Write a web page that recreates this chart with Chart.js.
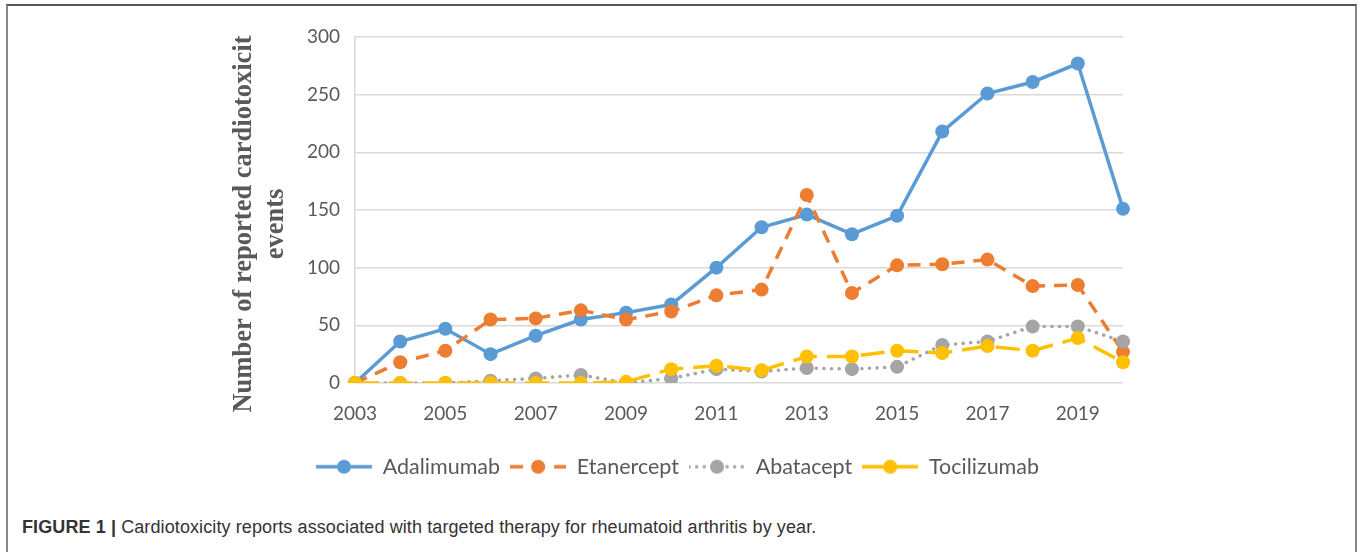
<!DOCTYPE html>
<html>
<head>
<meta charset="utf-8">
<script src="https://cdn.jsdelivr.net/npm/chart.js@4"></script>
<style>
  body { margin: 0; background: #fff; }
  #wrap { position: relative; width: 1362px; height: 552px; overflow: hidden; }
  #frame { position: absolute; left: 6px; top: 4px; width: 1347px; height: 560px;
           border-top: 2px solid #555; border-left: 2px solid #888; border-right: 2px solid #888; }
  #chart { position: absolute; left: 0; top: 0; }
  #caption { position: absolute; left: 22px; top: 517px; font: 18px "Liberation Sans", Arial, sans-serif;
             color: #333; letter-spacing: 0.1px; white-space: nowrap; }
  #caption b { font-weight: bold; }
</style>
</head>
<body>
<div id="wrap">
  <div id="frame"></div>
  <canvas id="chart" width="1362" height="495"></canvas>
  <div id="caption"><b>FIGURE 1 |</b> Cardiotoxicity reports associated with targeted therapy for rheumatoid arthritis by year.</div>
</div>
<script>
// data
const years = ["2003", "2004", "2005", "2006", "2007", "2008", "2009", "2010", "2011",
               "2012", "2013", "2014", "2015", "2016", "2017", "2018", "2019", "2020"];
const adalimumab  = [0, 36, 47, 25, 41, 55, 61, 68, 100, 135, 146, 129, 145, 218, 251, 261, 277, 151];
const etanercept  = [0, 18, 28, 55, 56, 63, 55, 62, 76, 81, 163, 78, 102, 103, 107, 84, 85, 27];
const abatacept   = [0, 0, 0, 2, 4, 7, 0, 4, 12, 10, 13, 12, 14, 33, 36, 49, 49, 36];
const tocilizumab = [0, 0, 0, 0, 0, 0, 1, 12, 15, 11, 23, 23, 28, 26, 32, 28, 39, 18];
const yTicks = [0, 50, 100, 150, 200, 250, 300];
const yTitle = ["Number of reported cardiotoxicit", "events"];

const textGray = "#595959";
const gridGray = "#d9d9d9";

// small line+marker sample for the legend
function legendSample(color, dash, cap) {
    const c = document.createElement("canvas");
    c.width = 56; c.height = 16;
    const g = c.getContext("2d");
    g.strokeStyle = color;
    g.lineWidth = 3.5;
    g.lineCap = cap || "butt";
    g.setLineDash(dash);
    g.beginPath();
    g.moveTo(0, 8); g.lineTo(56, 8);
    g.stroke();
    g.fillStyle = color;
    g.beginPath();
    g.arc(28, 8, 7, 0, Math.PI * 2);
    g.fill();
    return c;
}

function series(label, data, color, dash, cap, order) {
    return {
        label: label,
        data: data,
        borderColor: color,
        backgroundColor: color,
        borderWidth: 3.5,
        borderDash: dash,
        borderCapStyle: cap,
        pointRadius: 7,
        pointBorderWidth: 0,
        pointBackgroundColor: color,
        tension: 0,
        order: order,
        sample: legendSample(color, dash, cap)
    };
}

// y axis title, two rotated lines
const yTitlePlugin = {
    id: "yTitle",
    afterDraw(chart) {
        const ctx = chart.ctx;
        const area = chart.chartArea;
        const cy = (area.top + area.bottom) / 2 + 14;
        ctx.save();
        ctx.fillStyle = textGray;
        ctx.font = "bold 26.5px 'Liberation Serif', 'Times New Roman', serif";
        ctx.textAlign = "center";
        ctx.textBaseline = "middle";
        const xs = [area.left - 111, area.left - 79];
        yTitle.forEach((line, i) => {
            ctx.save();
            ctx.translate(xs[i], cy);
            ctx.rotate(-Math.PI / 2);
            ctx.fillText(line, 0, 0);
            ctx.restore();
        });
        ctx.restore();
    }
};

const ctx = document.getElementById("chart").getContext("2d");

new Chart(ctx, {
    type: "line",
    data: {
        labels: years,
        datasets: [
            series("Adalimumab", adalimumab, "#5b9bd5", [], "butt", 4),
            series("Etanercept", etanercept, "#ed7d31", [13, 9], "butt", 3),
            series("Abatacept", abatacept, "#a5a5a5", [0.1, 7.5], "round", 2),
            series("Tocilizumab", tocilizumab, "#ffc000", [24, 10], "butt", 1)
        ]
    },
    options: {
        responsive: false,
        animation: false,
        layout: { padding: { left: 232, right: 239, top: 37, bottom: 7.5 } },
        plugins: {
            tooltip: { enabled: false },
            legend: {
                position: "bottom",
                labels: {
                    usePointStyle: true,
                    pointStyleWidth: 56,
                    padding: 10,
                    color: textGray,
                    font: { family: "Lato", size: 21.5 },
                    generateLabels(chart) {
                        return chart.data.datasets.map((ds, i) => ({
                            text: ds.label,
                            pointStyle: ds.sample,
                            fillStyle: ds.borderColor,
                            strokeStyle: ds.borderColor,
                            lineWidth: 0,
                            hidden: false,
                            datasetIndex: i,
                            fontColor: textGray
                        }));
                    }
                }
            }
        },
        scales: {
            x: {
                type: "category",
                offset: false,
                grid: { display: false, drawTicks: false },
                border: { display: false },
                ticks: {
                    autoSkip: false,
                    maxRotation: 0,
                    padding: 19,
                    color: textGray,
                    font: { family: "Lato", size: 19 },
                    callback: (v, i) => (i % 2 === 0 ? years[i] : "")
                },
                afterFit: (s) => { s.height = 63; }
            },
            y: {
                min: 0,
                max: 300,
                afterBuildTicks: (s) => { s.ticks = yTicks.map(v => ({ value: v })); },
                grid: { color: gridGray, lineWidth: 1.5, drawTicks: false },
                border: { display: true, color: gridGray, width: 1.5 },
                ticks: {
                    padding: 15,
                    color: textGray,
                    font: { family: "Lato", size: 19 }
                },
                afterFit: (s) => { s.width = 123; }
            }
        }
    },
    plugins: [yTitlePlugin]
});
</script>
</body>
</html>
